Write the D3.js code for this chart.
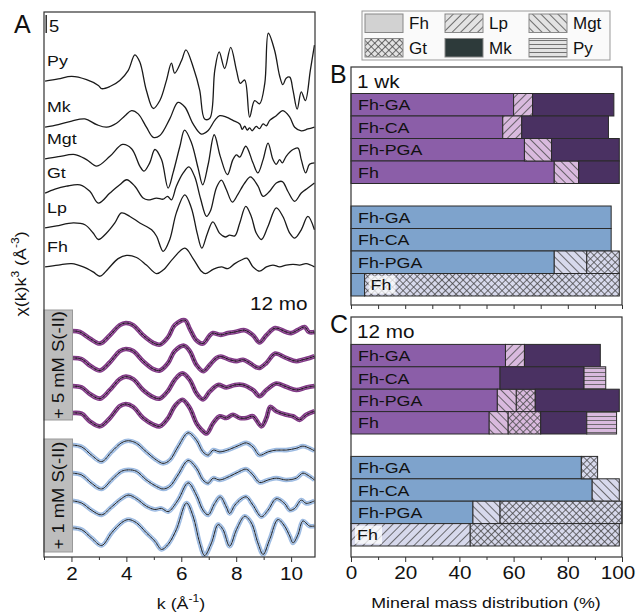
<!DOCTYPE html>
<html>
<head>
<meta charset="utf-8">
<script src="https://cdn.jsdelivr.net/npm/d3@7"></script>
<style>
  body { margin: 0; background: #fff; }
  text { font-family: "Liberation Sans", Arial, sans-serif; fill: #111; }
</style>
</head>
<body>
<div id="chart"></div>
<script>
// ---------- data: panel A, EXAFS spectra [k, chi(k)k^3] ----------
const refNames = ["Py", "Mk", "Mgt", "Gt", "Lp", "Fh"];
const refOffsets = [132.2, 119.4, 110.6, 101.1, 91.4, 80.6];

const specPy = [[1.04,0],[1.52,0.6],[2.01,1.3],[2.55,0.4],[2.98,-1.2],[3.10,-2.1],[3.40,-1.5],[3.76,0.2],[4.07,3.0],[4.31,7.3],[4.49,5.3],[4.73,-2.6],[4.98,-7.6],[5.22,-5.4],[5.46,0.2],[5.64,5.0],[5.76,2.2],[6.01,5.7],[6.17,8.7],[6.45,3.5],[6.67,-2.5],[6.85,-10.5],[7.04,-10.3],[7.22,3.0],[7.38,8.1],[7.58,3.5],[7.80,9.4],[8.01,3.0],[8.15,-0.6],[8.31,0.3],[8.49,-10],[8.67,-5.4],[8.85,-6.3],[9.04,-0.7],[9.17,13.3],[9.40,8.5],[9.58,1.5],[9.70,-1.0],[9.82,0.8],[9.95,1.1],[10.07,-2.6],[10.22,-7.8],[10.37,-3.0],[10.52,-5.4],[10.70,3.0],[10.85,10.0]];
const specMk = [[1.04,0],[1.52,0.7],[2.01,1.7],[2.49,2.3],[2.92,0.7],[3.28,0],[3.64,1.1],[3.95,3.2],[4.19,4.6],[4.43,3.7],[4.73,0],[4.98,-2.8],[5.22,-2.3],[5.58,2.3],[5.88,6.9],[6.13,5.6],[6.43,0.9],[6.73,-1.9],[6.98,-0.9],[7.22,1.9],[7.40,3.2],[7.64,2.8],[7.88,1.9],[8.13,0.9],[8.22,-0.6],[8.31,0.3],[8.40,-0.8],[8.49,-0.2],[8.58,-1.0],[8.73,0.2],[8.85,-0.4],[8.98,0.9],[9.10,0.4],[9.22,1.9],[9.46,3.2],[9.70,4.6],[9.95,2.8],[10.13,0],[10.37,-1.0],[10.61,-0.5],[10.85,0]];
const specMgt = [[1.04,0],[1.52,0.6],[2.13,1.2],[2.55,-0.2],[2.92,-2.0],[3.40,0.7],[3.86,4.0],[4.19,2.8],[4.49,-2.0],[4.64,-3.4],[4.85,-1.1],[5.04,2.6],[5.28,-0.2],[5.52,-8.1],[5.70,-3.9],[5.95,3.5],[6.12,8.0],[6.37,4.5],[6.61,-2.5],[6.78,-7.2],[6.98,-1.5],[7.20,6.7],[7.42,0.7],[7.68,-4.4],[7.88,-0.2],[8.01,1.1],[8.13,0.5],[8.35,3.5],[8.61,-1.1],[8.79,-3.9],[8.98,-0.2],[9.16,4.4],[9.34,-0.2],[9.46,-1.5],[9.58,-0.2],[9.68,-1.1],[9.82,0.7],[10.07,2.6],[10.25,3.0],[10.37,-0.2],[10.53,-3.9],[10.67,-1.5],[10.85,-1.1]];
const specGt = [[1.04,0],[1.40,1.1],[1.82,1.9],[2.31,2.3],[2.67,0.5],[2.98,-2.8],[3.40,0],[3.76,2.3],[4.01,3.7],[4.31,1.9],[4.61,-1.4],[4.79,-1.9],[5.10,-1.4],[5.34,-1.7],[5.50,-0.9],[5.64,-1.9],[5.82,1.9],[6.07,5.6],[6.28,7.3],[6.49,4.5],[6.70,-1.5],[6.92,-6.5],[7.06,-5.0],[7.28,1.5],[7.46,3.6],[7.64,1.0],[7.86,-2.5],[8.05,-0.5],[8.31,2.8],[8.52,4.5],[8.79,2.0],[8.98,-0.9],[9.22,0.5],[9.46,2.8],[9.68,3.2],[9.88,0.5],[10.13,-2.3],[10.37,0],[10.61,1.4],[10.85,2.8]];
const specLp = [[1.04,0],[1.46,0.6],[2.07,1.4],[2.49,0.9],[2.79,-1.4],[2.98,-3.2],[3.28,-1.4],[3.58,1.4],[3.82,4.2],[4.13,3.2],[4.49,1.4],[4.92,-0.5],[5.10,-2.3],[5.34,-6.5],[5.58,-3.2],[5.82,4.2],[6.13,9.2],[6.37,5.5],[6.58,-1.5],[6.75,-5.6],[6.95,-1.5],[7.15,1.7],[7.40,-1.5],[7.60,-2.5],[7.76,-2.0],[7.95,-2.2],[8.13,1.4],[8.35,6.0],[8.55,3.2],[8.73,-1.4],[8.92,-3.2],[9.16,0.5],[9.46,5.6],[9.70,3.2],[9.95,-1.4],[10.13,-2.8],[10.37,-0.5],[10.61,3.2],[10.85,-0.5]];
const specFh = [[1.04,0],[1.52,0.5],[2.01,0.9],[2.43,0],[2.79,-1.4],[3.04,-2.6],[3.34,-0.5],[3.70,2.3],[4.01,3.2],[4.37,2.6],[4.73,0.5],[5.10,-1.9],[5.34,-0.9],[5.70,2.3],[6.13,5.2],[6.43,2.3],[6.73,-1.2],[6.88,-1.9],[7.16,-0.7],[7.46,0],[7.70,-0.5],[7.95,0.9],[8.19,1.9],[8.39,2.4],[8.61,0],[8.85,-1.2],[9.10,0],[9.34,0.5],[9.58,0],[9.82,0.5],[10.07,0.7],[10.31,0.5],[10.55,0.9],[10.85,0]];
const refSpectra = [specPy, specMk, specMgt, specGt, specLp, specFh];

// 12 mo samples: + 5 mM S(-II) (purple) and + 1 mM S(-II) (blue)
const sampleOffsets = [62.8, 55.3, 47.5, 40.0, 31.1, 23.3, 15.6, 8.1];
const s5_1 = [[2.04,0],[2.31,-0.3],[2.67,-2.1],[3.04,-3.5],[3.40,-1.2],[3.76,1.6],[3.98,2.2],[4.25,1.6],[4.61,-1.2],[4.98,-3.3],[5.22,-3.8],[5.52,-1.7],[5.76,1.6],[6.13,3.0],[6.31,0.6],[6.55,-2.6],[6.79,-3.5],[7.04,-1.2],[7.15,-0.6],[7.44,-1.1],[7.70,-0.6],[7.95,-0.3],[8.31,0.2],[8.61,-1.2],[8.85,-3.2],[9.10,-1.2],[9.42,0.8],[9.82,-0.3],[10.0,-0.6],[10.25,0.3],[10.49,1.1],[10.65,-0.3],[10.85,-0.3]];
const s5_2 = [[2.04,0],[2.37,-0.3],[2.67,-2.1],[3.04,-3.5],[3.40,-1.2],[3.76,1.9],[3.98,2.5],[4.25,1.9],[4.61,-0.9],[4.98,-3.1],[5.22,-3.5],[5.52,-1.4],[5.76,1.9],[6.10,3.4],[6.31,1.9],[6.55,-1.9],[6.80,-3.7],[7.04,-1.9],[7.28,0],[7.44,0.4],[7.76,-0.5],[8.01,-0.9],[8.25,-0.5],[8.49,-1.4],[8.73,-2.6],[8.85,-2.8],[9.10,-1.4],[9.42,1.2],[9.82,0],[10.19,-0.9],[10.43,-0.5],[10.67,0],[10.85,0.5]];
const s5_3 = [[2.04,0],[2.37,-0.4],[2.67,-2.2],[3.04,-3.5],[3.40,-1.1],[3.76,1.9],[3.98,2.6],[4.25,1.9],[4.61,-1.1],[4.98,-3.1],[5.22,-3.5],[5.52,-1.3],[5.76,1.7],[6.04,3.5],[6.31,1.7],[6.55,-2.0],[6.79,-3.7],[7.04,-1.5],[7.34,0.3],[7.64,-0.4],[7.95,0.3],[8.25,0.3],[8.61,-1.1],[8.85,-2.8],[9.10,-1.1],[9.46,0.7],[9.82,-0.2],[10.19,-1.1],[10.55,-0.4],[10.85,0]];
const s5_4 = [[2.04,0],[2.37,-0.2],[2.67,-2.3],[3.04,-3.7],[3.40,-1.4],[3.76,1.9],[3.98,2.5],[4.25,1.7],[4.61,-1.4],[4.98,-3.2],[5.22,-3.7],[5.52,-1.4],[5.76,1.9],[6.04,3.7],[6.31,1.4],[6.55,-2.8],[6.73,-4.6],[6.92,-5.7],[7.16,-2.8],[7.40,-0.9],[7.64,-1.4],[7.88,-0.5],[8.13,-1.4],[8.37,-1.4],[8.61,-0.9],[8.92,-3.7],[9.10,-1.4],[9.24,1.7],[9.46,0.5],[9.82,-0.5],[10.07,-0.9],[10.31,-1.9],[10.55,-0.5],[10.85,0.5]];
const s1_1 = [[2.04,0],[2.37,-0.5],[2.73,-2.8],[3.10,-4.6],[3.46,-1.9],[3.82,0.6],[4.07,1.2],[4.37,0.5],[4.73,-1.9],[5.10,-4.2],[5.34,-5.1],[5.58,-4.2],[5.88,-0.5],[6.25,3.4],[6.55,1.4],[6.79,-1.9],[6.98,-2.8],[7.16,-1.4],[7.40,-1.9],[7.76,-1.2],[8.13,0],[8.37,0.6],[8.61,-0.5],[8.85,-2.8],[9.16,-1.9],[9.46,-1.4],[9.82,-1.4],[10.19,-0.9],[10.43,-0.3],[10.67,-0.9],[10.85,-1.6]];
const s1_2 = [[2.04,0],[2.37,-0.5],[2.73,-2.8],[3.10,-4.4],[3.46,-1.9],[3.82,0.5],[4.07,0.9],[4.37,0.5],[4.73,-1.9],[5.10,-3.7],[5.34,-4.4],[5.58,-3.7],[5.88,-0.5],[6.25,3.5],[6.55,1.4],[6.79,-1.9],[6.98,-2.8],[7.16,-1.4],[7.40,-1.9],[7.76,-0.9],[8.13,0.5],[8.37,1.1],[8.61,-0.5],[8.85,-2.6],[9.16,-1.9],[9.46,-1.4],[9.82,-1.9],[10.19,-1.4],[10.43,0],[10.67,-0.9],[10.85,-1.9]];
const s1_3 = [[2.04,0],[2.37,-0.6],[2.73,-2.6],[3.10,-3.9],[3.46,-1.7],[3.82,0.6],[4.07,1.6],[4.37,0.6],[4.73,-1.5],[5.04,-2.4],[5.28,-2.1],[5.52,-3.0],[5.88,0.2],[6.25,5.0],[6.55,1.6],[6.79,-2.6],[6.98,-3.9],[7.22,-0.7],[7.42,1.1],[7.64,-1.7],[7.76,-3.5],[7.95,-1.2],[8.19,0.6],[8.37,1.1],[8.61,-1.2],[8.92,-4.4],[9.16,-2.6],[9.46,0.6],[9.76,-0.7],[9.95,-2.6],[10.13,-2.1],[10.37,0.2],[10.55,-0.7],[10.85,0]];
const s1_4 = [[2.04,0],[2.37,-0.5],[2.73,-2.8],[3.10,-4.9],[3.46,-1.4],[3.82,1.4],[4.07,2.3],[4.37,1.4],[4.73,-1.4],[5.04,-3.7],[5.28,-6.0],[5.52,-4.6],[5.82,-0.5],[6.19,6.9],[6.43,3.2],[6.67,-4.2],[6.85,-7.7],[7.10,-4.2],[7.34,0.9],[7.52,-0.5],[7.76,-5.1],[8.01,-0.5],[8.31,3.2],[8.55,1.4],[8.79,-4.2],[8.98,-7.4],[9.22,-3.2],[9.52,2.3],[9.76,0.5],[9.95,-2.3],[10.07,-4.2],[10.25,-1.9],[10.43,1.9],[10.67,0.5],[10.85,0.5]];
const sampleSpectra = [s5_1, s5_2, s5_3, s5_4, s1_1, s1_2, s1_3, s1_4];
const sampleGroup = ["p","p","p","p","b","b","b","b"];
const kTicks = [2, 4, 6, 8, 10];

// ---------- data: panels B / C, mineral mass distribution (%) ----------
const minerals = ["Fh", "Lp", "Mgt", "Gt", "Mk", "Py"];
const samples = ["Fh-GA", "Fh-CA", "Fh-PGA", "Fh"];
// each row: Fh, Lp, Mgt, Gt, Mk, Py
const wk1Purple = [[60,7,0,0,30,0],[56,7,0,0,32,0],[64,0,10,0,25,0],[75,0,9,0,15,0]];
const wk1Blue   = [[96,0,0,0,0,0],[96,0,0,0,0,0],[75,0,12,12,0,0],[5,0,0,94,0,0]];
const mo12Purple = [[57,7,0,0,28,0],[55,0,0,0,31,8],[54,0,7,7,31,0],[51,0,7,12,17,11]];
const mo12Blue   = [[85,0,0,6,0,0],[89,0,10,0,0,0],[45,0,10,45,0,0],[0,44,0,55,0,0]];
const pctTicks = [0, 20, 40, 60, 80, 100];

// ---------- drawing ----------
const W = 638, H = 615;
const svg = d3.select("#chart").append("svg")
  .attr("width", W).attr("height", H);
const defs = svg.append("defs");

// fills and patterns per group (p = 5 mM purple, b = 1 mM blue, l = legend)
const groupStyle = {
  p: {Fh: "#8b5ea8", Mk: "#4a3162", bg: "#d9bade", text: "#fff"},
  b: {Fh: "#7ea3cc", Mk: "#2e3b3b", bg: "#d7d9ec", text: "#1a1a1a"},
  l: {Fh: "#d2d2d2", Mk: "#2d3a3a", bg: "#e3e3e3", text: "#111"}
};
function makePattern(id, kind, bg) {
  const size = kind === "Py" ? 4 : (kind === "Gt" ? 5 : 6);
  const p = defs.append("pattern").attr("id", id)
    .attr("patternUnits", "userSpaceOnUse")
    .attr("width", size).attr("height", size);
  if (kind === "Lp" || kind === "Gt") p.attr("patternTransform", "rotate(45)");
  if (kind === "Mgt") p.attr("patternTransform", "rotate(-45)");
  p.append("rect").attr("width", size).attr("height", size).attr("fill", bg);
  if (kind === "Py") {
    p.append("line").attr("x1", 0).attr("x2", size).attr("y1", 0.5).attr("y2", 0.5)
      .attr("stroke", "#555").attr("stroke-width", 0.8);
  } else {
    p.append("line").attr("x1", 0.5).attr("x2", 0.5).attr("y1", 0).attr("y2", size)
      .attr("stroke", "#444").attr("stroke-width", 0.75);
    if (kind === "Gt")
      p.append("line").attr("x1", 0).attr("x2", size).attr("y1", 0.5).attr("y2", 0.5)
        .attr("stroke", "#444").attr("stroke-width", 0.75);
  }
}
function fillFor(group, m) {
  if (m === "Fh" || m === "Mk") return groupStyle[group][m];
  return `url(#pat-${group}-${m})`;
}
["p", "b", "l"].forEach(g => ["Lp", "Mgt", "Gt", "Py"].forEach(m =>
  makePattern(`pat-${g}-${m}`, m, groupStyle[g].bg)));

// ----- panel A -----
const xA = d3.scaleLinear().domain([1, 10.87]).range([44, 315]);
const yA = d3.scaleLinear().domain([0, 151.4]).range([557, 12]);

defs.append("clipPath").attr("id", "clipA").append("rect")
  .attr("x", 44).attr("y", 12).attr("width", 271).attr("height", 545);

const gA = svg.append("g");
const lineFor = off => d3.line()
  .x(d => xA(d[0])).y(d => yA(d[1] + off))
  .curve(d3.curveCatmullRom.alpha(0.5));

const plotA = gA.append("g").attr("clip-path", "url(#clipA)");

refSpectra.forEach((s, i) => {
  plotA.append("path").attr("d", lineFor(refOffsets[i])(s))
    .attr("fill", "none").attr("stroke", "#1a1a1a").attr("stroke-width", 1.3);
  gA.append("text").attr("x", 47).attr("y", yA(refOffsets[i]) - 15)
    .attr("font-size", 15.5).text(refNames[i]);
});

const dataCol = {p: ["#803a86", "#b274b4"], b: ["#9dbbe2", "#cddcf0"]};
sampleSpectra.forEach((s, i) => {
  const g = sampleGroup[i], path = lineFor(sampleOffsets[i])(s);
  plotA.append("path").attr("d", path).attr("fill", "none")
    .attr("stroke", dataCol[g][0]).attr("stroke-width", 4.6);
  plotA.append("path").attr("d", path).attr("fill", "none")
    .attr("stroke", dataCol[g][1]).attr("stroke-width", 2).attr("stroke-dasharray", "3 1.5");
  plotA.append("path").attr("d", path).attr("fill", "none")
    .attr("stroke", "#111").attr("stroke-width", 0.9);
});

// gray condition boxes
const boxes = [
  {label: "+ 5 mM S(-II)", y0: 310, y1: 420},
  {label: "+ 1 mM S(-II)", y0: 439, y1: 552}
];
boxes.forEach(b => {
  gA.append("rect").attr("x", 44).attr("y", b.y0).attr("width", 28.5)
    .attr("height", b.y1 - b.y0).attr("fill", "#bdbdbd").attr("stroke", "#999");
  gA.append("text").attr("transform", `translate(64,${(b.y0 + b.y1) / 2}) rotate(-90)`)
    .attr("text-anchor", "middle").attr("font-size", 16).attr("fill", "#222").text(b.label);
});

// frame
gA.append("rect").attr("x", 44).attr("y", 12).attr("width", 271).attr("height", 545)
  .attr("fill", "none").attr("stroke", "#333").attr("stroke-width", 1.2);

// x axis
const axA = gA.append("g").attr("transform", "translate(0,557)")
  .call(d3.axisBottom(xA).tickValues(kTicks).tickSize(5).tickPadding(5).tickFormat(d3.format("d")));
axA.select(".domain").remove();
axA.selectAll("text").attr("font-size", 18).attr("fill", "#111");
axA.selectAll("line").attr("stroke", "#333");
gA.append("g").attr("transform", "translate(0,557)")
  .call(d3.axisBottom(xA).tickValues([1, 3, 5, 7, 9]).tickSize(3).tickFormat(""))
  .call(g => g.select(".domain").remove())
  .selectAll("line").attr("stroke", "#333");

const kTitle = gA.append("text").attr("x", 181).attr("y", 609)
  .attr("text-anchor", "middle").attr("font-size", 15.5);
kTitle.append("tspan").text("k (Å");
kTitle.append("tspan").attr("font-size", 10.5).attr("dy", -7).text("-1");
kTitle.append("tspan").attr("dy", 7).text(")");

const yTitle = gA.append("text").attr("transform", "translate(26,274) rotate(-90)")
  .attr("text-anchor", "middle").attr("font-size", 15.5);
yTitle.append("tspan").text("χ(k)k");
yTitle.append("tspan").attr("font-size", 10.5).attr("dy", -7).text("3");
yTitle.append("tspan").attr("dy", 7).text(" (Å");
yTitle.append("tspan").attr("font-size", 10.5).attr("dy", -7).text("-3");
yTitle.append("tspan").attr("dy", 7).text(")");

// scale bar
gA.append("line").attr("x1", xA(1.08)).attr("x2", xA(1.08))
  .attr("y1", yA(150.6)).attr("y2", yA(145.6)).attr("stroke", "#111").attr("stroke-width", 1.3);
gA.append("text").attr("x", 49).attr("y", 32).attr("font-size", 16).text("5");

gA.append("text").attr("x", 250).attr("y", 310).attr("font-size", 18).text("12 mo");

// ----- panels B and C -----
const xB = d3.scaleLinear().domain([0, 100]).range([351, 622]);
const slots = ["lbl", "p0", "p1", "p2", "p3", "gap", "b0", "b1", "b2", "b3"];
const stack = d3.stack().keys(d3.range(minerals.length)).value((d, k) => d[k]);

function drawPanel(top, bottom, rowTop, rowBottom, purple, blue, title, letter, labelled) {
  const g = svg.append("g");
  const yB = d3.scaleBand().domain(slots).range([rowTop, rowBottom]);
  [["p", purple], ["b", blue]].forEach(([grp, rows]) => {
    stack(rows).forEach((s, mi) => {
      s.forEach((seg, ri) => {
        if (seg[1] - seg[0] <= 0) return;
        g.append("rect")
          .attr("x", xB(seg[0])).attr("width", xB(seg[1]) - xB(seg[0]))
          .attr("y", yB(grp + ri)).attr("height", yB.bandwidth())
          .attr("fill", fillFor(grp, minerals[mi]))
          .attr("stroke", "#2a2a2a").attr("stroke-width", 1);
      });
    });
    rows.forEach((r, ri) => {
      const fh = r[0];
      const tx = fh >= 20 ? xB(0) + 7 : xB(fh) + 6;
      const ty = yB(grp + ri) + yB.bandwidth() / 2;
      if (fh < 20) {
        g.append("rect").attr("x", tx - 2).attr("y", ty - 9).attr("width", 27).attr("height", 18)
          .attr("fill", "#fff").attr("opacity", 0.75);
      }
      g.append("text").attr("x", tx).attr("y", ty).attr("dy", "0.36em")
        .attr("font-size", 15.5).attr("fill", fh >= 20 ? groupStyle[grp].text : "#1a1a1a")
        .text(samples[ri]);
    });
  });
  g.append("rect").attr("x", 351).attr("y", top).attr("width", 271).attr("height", bottom - top)
    .attr("fill", "none").attr("stroke", "#333").attr("stroke-width", 1.2);
  g.append("text").attr("x", 357).attr("y", top + 21).attr("font-size", 18).text(title);
  svg.append("text").attr("class", "nostretch").attr("x", 330).attr("y", top + 16)
    .attr("font-size", 25).text(letter);

  const ax = g.append("g").attr("transform", `translate(0,${bottom})`);
  if (labelled) {
    ax.call(d3.axisBottom(xB).tickValues(pctTicks).tickSize(5).tickPadding(4));
    ax.selectAll("text").attr("font-size", 18).attr("fill", "#111");
    // the last label sits a little left of its tick, as in the original
    ax.selectAll("text").filter(d => d === 100).attr("dx", -4);
    g.append("g").attr("transform", `translate(0,${bottom})`)
      .call(d3.axisBottom(xB).tickValues([10, 30, 50, 70, 90]).tickSize(3).tickFormat(""))
      .call(a => a.select(".domain").remove())
      .selectAll("line").attr("stroke", "#333");
  } else {
    ax.call(d3.axisBottom(xB).tickValues(d3.range(0, 101, 10)).tickSize(4).tickFormat(""));
  }
  ax.select(".domain").remove();
  ax.selectAll("line").attr("stroke", "#333");
}

drawPanel(67, 305, 71, 296, wk1Purple, wk1Blue, "1 wk", "B", false);
drawPanel(317, 557, 322, 546, mo12Purple, mo12Blue, "12 mo", "C", true);

svg.append("text").attr("x", 486).attr("y", 608).attr("text-anchor", "middle")
  .attr("font-size", 15.5).text("Mineral mass distribution (%)");

// the original lettering is a little wider than Liberation Sans: stretch it horizontally
svg.selectAll("text:not(.nostretch)").each(function () {
  const t = d3.select(this), tr = t.attr("transform");
  if (tr) { t.attr("transform", tr + " scale(1.15,1)"); return; }
  const x = +t.attr("x") || 0, y = +t.attr("y") || 0;
  t.attr("x", null).attr("y", null).attr("transform", `translate(${x},${y}) scale(1.15,1)`);
});

svg.append("text").attr("x", 14).attr("y", 33).attr("font-size", 25).text("A");

// ----- legend -----
const lg = svg.append("g");
lg.append("rect").attr("x", 362).attr("y", 11).attr("width", 248).attr("height", 49)
  .attr("fill", "#fafafa").attr("stroke", "#999");
const colX = [365, 445, 529], rowY = [14, 38.5];
minerals.forEach((m, i) => {
  const cx = colX[i % 3], cy = rowY[Math.floor(i / 3)];
  lg.append("rect").attr("x", cx).attr("y", cy).attr("width", 38).attr("height", 18.5)
    .attr("fill", fillFor("l", m)).attr("stroke", "#888");
  lg.append("text").attr("x", cx + 44).attr("y", cy + 15).attr("font-size", 17).text(m);
});
</script>
</body>
</html>
